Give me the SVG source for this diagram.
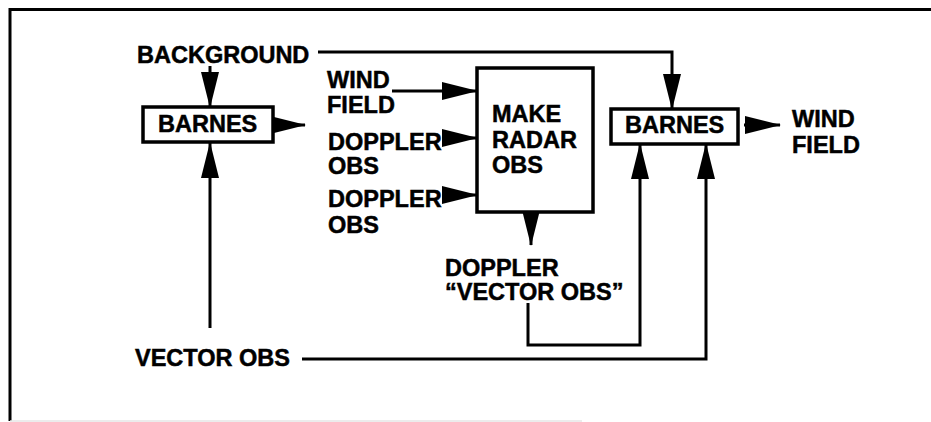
<svg xmlns="http://www.w3.org/2000/svg" width="931" height="422" viewBox="0 0 931 422">
<defs>
<style>
text{font-family:"Liberation Sans",Arial,sans-serif;font-weight:bold;font-size:23.5px;fill:#000;stroke:#000;stroke-width:0.5}
.box{fill:#fff;stroke:#000;stroke-width:3.5}
.c{fill:none;stroke:#000;stroke-width:3}
.frame{fill:none;stroke:#000;stroke-width:3}
</style>
<marker id="ah" markerUnits="userSpaceOnUse" markerWidth="36" markerHeight="20" refX="35" refY="10" orient="auto">
<path d="M0,1 L36,10 L0,19 Z" fill="#000"/>
</marker>
</defs>
<rect width="931" height="422" fill="#fff"/>
<g id="frame">
<path class="frame" d="M10,421 V9.5 H931"/>
<line x1="10" y1="421" x2="582" y2="421" stroke="#e6e6e6" stroke-width="1.5"/>
</g>
<g id="connectors">
<path class="c" d="M210,66 V107" marker-end="url(#ah)"/>
<path class="c" d="M318,52 H672 V109" marker-end="url(#ah)"/>
<path class="c" d="M276,125 H305" marker-end="url(#ah)"/>
<path class="c" d="M210,328 V143" marker-end="url(#ah)"/>
<path class="c" d="M392,91 H477" marker-end="url(#ah)"/>
<path class="c" d="M448,138 H477" marker-end="url(#ah)"/>
<path class="c" d="M448,195 H477" marker-end="url(#ah)"/>
<path class="c" d="M531,212 V245" marker-end="url(#ah)"/>
<path class="c" d="M528,303 V345 H640 V144" marker-end="url(#ah)"/>
<path class="c" d="M302,359 H706 V144" marker-end="url(#ah)"/>
<path class="c" d="M744,125 H780" marker-end="url(#ah)"/>
</g>
<g id="background"><text x="137" y="63">BACKGROUND</text></g>
<g id="barnes1">
<rect class="box" x="143" y="107" width="130" height="35"/>
<text x="158" y="132">BARNES</text>
</g>
<g id="windfield-in"><text x="327" y="88">WIND</text><text x="327" y="113">FIELD</text></g>
<g id="doppler1"><text x="328" y="150">DOPPLER</text><text x="328" y="174">OBS</text></g>
<g id="doppler2"><text x="328" y="207">DOPPLER</text><text x="328" y="233">OBS</text></g>
<g id="makeradar">
<rect class="box" x="477" y="68" width="116" height="144"/>
<text x="492" y="122">MAKE</text><text x="492" y="148">RADAR</text><text x="492" y="173">OBS</text>
</g>
<g id="dopplervector"><text x="445" y="276">DOPPLER</text><text x="445" y="300">“VECTOR OBS”</text></g>
<g id="barnes2">
<rect class="box" x="611" y="109" width="127" height="35"/>
<text x="625" y="133">BARNES</text>
</g>
<g id="windfield-out"><text x="792" y="127">WIND</text><text x="792" y="153">FIELD</text></g>
<g id="vectorobs"><text x="135" y="366">VECTOR OBS</text></g>
</svg>
